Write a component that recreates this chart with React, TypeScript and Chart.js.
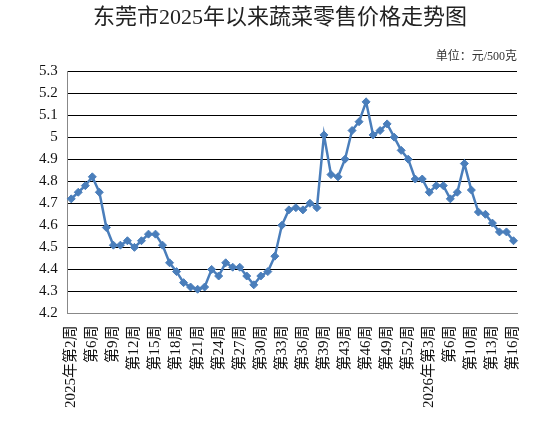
import React, { useEffect, useRef } from "react";
import { Chart, registerables } from "chart.js";

Chart.register(...registerables);

const weeks2025: number[] = [2, 3, 4, 6, 7, 8, 9, 10, 11, 12, 13, 14, 15, 16, 17, 18, 19, 20, 21, 22, 23, 24, 25, 26, 27, 28, 29, 30, 31, 32, 33, 34, 35, 36, 37, 38, 39, 40, 41, 43, 44, 45, 46, 47, 48, 49, 50, 51, 52];
const weeks2026: number[] = [1, 2, 3, 4, 5, 6, 7, 8, 10, 11, 12, 13, 14, 15, 16];

const categories: string[] = [
  ...weeks2025.map((w, i) => (i === 0 ? `2025年第${w}周` : `第${w}周`)),
  ...weeks2026.map((w) => (w === 3 ? `2026年第${w}周` : `第${w}周`)),
];

const prices: number[] = [
  4.72, 4.75, 4.78, 4.82, 4.75, 4.59, 4.51, 4.51, 4.53, 4.50,
  4.53, 4.56, 4.56, 4.51, 4.43, 4.39, 4.34, 4.32, 4.31, 4.32,
  4.40, 4.37, 4.43, 4.41, 4.41, 4.37, 4.33, 4.37, 4.39, 4.46,
  4.60, 4.67, 4.68, 4.67, 4.70, 4.68, 5.01, 4.83, 4.82, 4.90,
  5.03, 5.07, 5.16, 5.01, 5.03, 5.06, 5.00, 4.94, 4.90, 4.81,
  4.81, 4.75, 4.78, 4.78, 4.72, 4.75, 4.88, 4.76, 4.66, 4.65,
  4.61, 4.57, 4.57, 4.53,
];

const titleText = "东莞市2025年以来蔬菜零售价格走势图";
const unitText = "单位：元/500克";

const FONT = "'Liberation Serif', 'Times New Roman', 'Noto Sans CJK SC', serif";

const headerPlugin = {
  id: "header",
  afterDraw(chart: any) {
    const ctx = chart.ctx;
    ctx.save();
    ctx.fillStyle = "#222";
    ctx.textBaseline = "middle";
    ctx.font = `22px ${FONT}`;
    ctx.textAlign = "center";
    ctx.fillText(titleText, 280, 18);
    ctx.font = `12px ${FONT}`;
    ctx.textAlign = "right";
    ctx.fillStyle = "#333";
    ctx.fillText(unitText, chart.chartArea.right, 57);
    ctx.restore();
  },
};

export default function App() {
  const ref = useRef<HTMLCanvasElement | null>(null);
  useEffect(() => {
    if (!ref.current) return;
    const chart = new Chart(ref.current, {
      type: "line",
      data: {
        labels: categories,
        datasets: [
          {
            data: prices,
            borderColor: "#4A7EBB",
            backgroundColor: "#4A7EBB",
            borderWidth: 2.5,
            pointStyle: "rectRot",
            pointRadius: 4,
            pointBorderWidth: 1,
            tension: 0,
          },
        ],
      },
      options: {
        animation: false,
        responsive: false,
        maintainAspectRatio: false,
        layout: { padding: { left: 29, right: 37, top: 71, bottom: 3 } },
        plugins: {
          legend: { display: false },
          tooltip: { enabled: false },
          title: { display: false },
        },
        scales: {
          x: {
            offset: true,
            grid: { display: false, drawTicks: false },
            border: { display: true, color: "#888", width: 1 },
            ticks: {
              autoSkip: false,
              maxRotation: 90,
              minRotation: 90,
              padding: 12,
              color: "#111",
              font: { family: FONT, size: 15 },
              callback: (_v: any, i: number) => (i % 3 === 0 ? categories[i] : ""),
            },
          },
          y: {
            min: 4.2,
            max: 5.3,
            grid: { color: "#000", lineWidth: 1, drawTicks: false },
            border: { display: true, color: "#888", width: 1 },
            ticks: {
              stepSize: 0.1,
              padding: 10,
              color: "#111",
              font: { family: FONT, size: 15 },
              callback: (v: any) => String(Number(Number(v).toFixed(1))),
            },
          },
        },
      },
      plugins: [headerPlugin],
    });
    return () => chart.destroy();
  }, []);
  return (
    <div style={{ position: "fixed", left: 0, top: 0, width: 554, height: 423, background: "#fff" }}>
      <canvas ref={ref} width={554} height={423} style={{ width: 554, height: 423 }} />
    </div>
  );
}
